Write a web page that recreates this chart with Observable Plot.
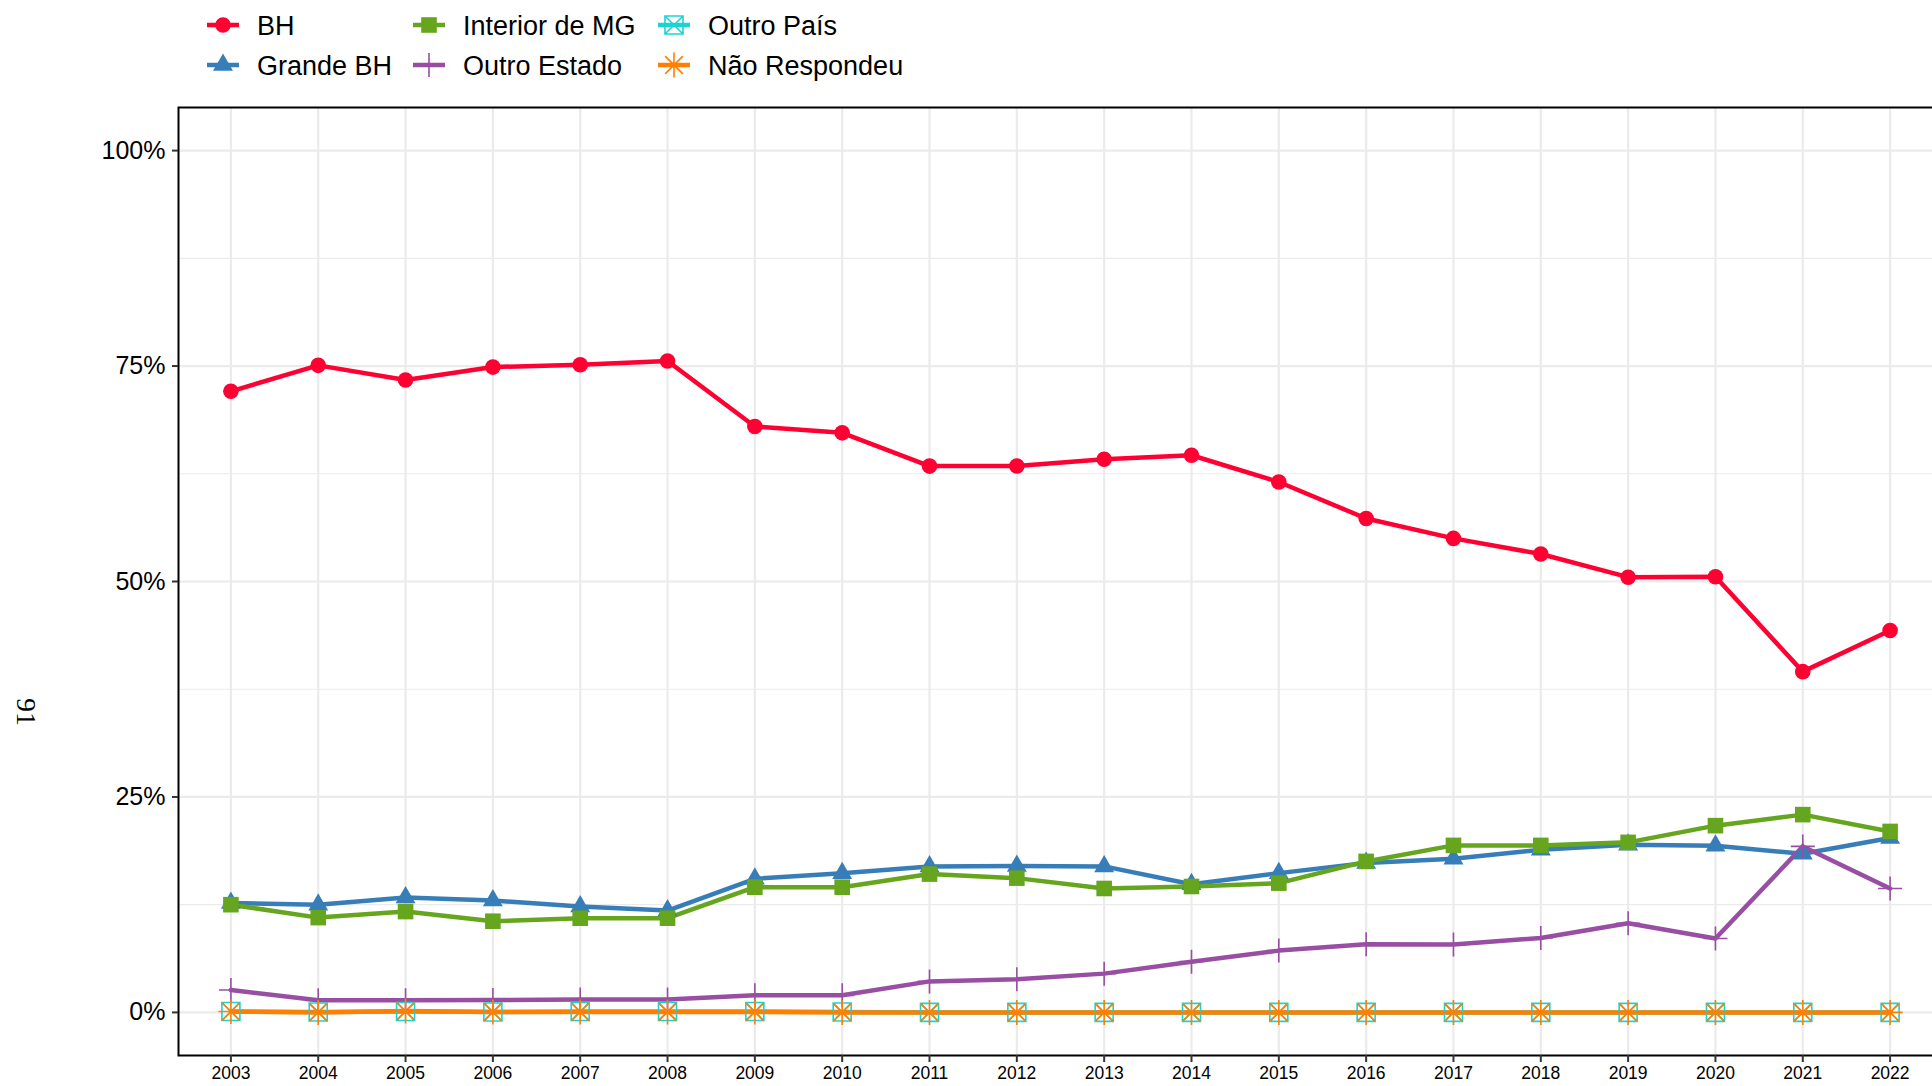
<!DOCTYPE html>
<html><head><meta charset="utf-8">
<script src="https://cdn.jsdelivr.net/npm/d3@7"></script>
<script src="https://cdn.jsdelivr.net/npm/@observablehq/plot@0.6"></script>
<style>
html,body{margin:0;padding:0;background:#fff;overflow:hidden;}
#wrap{width:1932px;height:1086px;overflow:hidden;position:relative;font-family:"Liberation Sans",Arial,sans-serif;}
#wrap svg{display:block;max-width:none !important;}
</style></head><body><div id="wrap"></div>
<script>
// ---- data ----
const years = [2003,2004,2005,2006,2007,2008,2009,2010,2011,2012,2013,2014,2015,2016,2017,2018,2019,2020,2021,2022];
const bh           = [72.07,75.08,73.38,74.88,75.15,75.58,67.98,67.25,63.39,63.41,64.19,64.65,61.54,57.31,55.00,53.19,50.50,50.55,39.54,44.31];
const grandeBH     = [12.70,12.48,13.33,12.98,12.29,11.82,15.50,16.16,16.94,17.00,16.94,14.88,16.16,17.33,17.83,18.88,19.46,19.34,18.41,20.23];
const interiorMG   = [12.50,11.00,11.70,10.58,10.93,10.93,14.53,14.53,16.05,15.58,14.38,14.61,15.00,17.52,19.38,19.38,19.73,21.67,22.95,21.00];
const outroEstado  = [2.60,1.40,1.40,1.43,1.51,1.51,1.98,1.98,3.60,3.84,4.50,5.89,7.17,7.91,7.87,8.64,10.35,8.57,19.26,14.38];
const outroPais    = [0.10,0.05,0.10,0.05,0.10,0.10,0.10,0.05,0.00,0.00,0.00,0.00,0.00,0.00,0.00,0.00,0.00,0.00,0.00,0.00];
const naoRespondeu = [0.10,0.00,0.15,0.05,0.05,0.05,0.05,0.00,0.00,0.00,0.00,0.00,0.00,0.00,0.00,0.00,0.00,0.00,0.00,0.00];

const seriesNames  = ["BH","Grande BH","Interior de MG","Outro Estado","Outro País","Não Respondeu"];
const seriesValues = [bh, grandeBH, interiorMG, outroEstado, outroPais, naoRespondeu];
const seriesColors = ["#FF0033","#377EB8","#66A61E","#984EA3","#1CD3D3","#FF7F00"];
const yTicks = [0, 0.25, 0.5, 0.75, 1];
const yMinorTicks = [0.125, 0.375, 0.625, 0.875];
const yTitle = "91";

// ---- symbols ----
const rOf = size => Math.sqrt(size / Math.PI);
const symPlus = {draw(c, s){const r=rOf(s); c.moveTo(-r,0); c.lineTo(r,0); c.moveTo(0,-r); c.lineTo(0,r);}};
const symSquareCross = {draw(c, s){const r=rOf(s); c.moveTo(-r,-r); c.lineTo(r,-r); c.lineTo(r,r); c.lineTo(-r,r); c.closePath(); c.moveTo(-r,-r); c.lineTo(r,r); c.moveTo(r,-r); c.lineTo(-r,r);}};
const symAsterisk = {draw(c, s){const r=rOf(s), d=r/Math.SQRT2; c.moveTo(-r,0); c.lineTo(r,0); c.moveTo(0,-r); c.lineTo(0,r); c.moveTo(-d,-d); c.lineTo(d,d); c.moveTo(d,-d); c.lineTo(-d,d);}};

// symbol, radius, filled?
const seriesStyle = [
  {symbol: d3.symbolCircle,   r: 7.8,  filled: true},
  {symbol: d3.symbolTriangle, r: 7.4,  filled: true},
  {symbol: d3.symbolSquare,   r: 8.8,  filled: true},
  {symbol: symPlus,           r: 12,   filled: false},
  {symbol: symSquareCross,    r: 9,    filled: false},
  {symbol: symAsterisk,       r: 12.5, filled: false}
];

const table = seriesNames.flatMap((name, k) => years.map((year, i) => ({series: name, year, value: seriesValues[k][i] / 100})));

// ---- legend ----
const legendH = 90;
const legend = d3.create("svg").attr("width", 1932).attr("height", legendH)
  .attr("font-family", '"Liberation Sans", Arial, sans-serif');
const keyCx = [223, 429, 674], textX = [257, 463, 708], rowY = [25, 65];
seriesNames.forEach((name, k) => {
  const col = Math.floor(k / 2), row = k % 2;
  const g = legend.append("g").attr("transform", `translate(${keyCx[col]},${rowY[row]})`);
  g.append("line").attr("x1", -16).attr("x2", 16).attr("stroke", seriesColors[k]).attr("stroke-width", 4.5);
  const st = seriesStyle[k];
  g.append("path").attr("d", d3.symbol(st.symbol, Math.PI * st.r * st.r)())
    .attr("fill", st.filled ? seriesColors[k] : "none")
    .attr("stroke", seriesColors[k]).attr("stroke-width", st.filled ? 0 : 1.6);
  legend.append("text").attr("x", textX[col]).attr("y", rowY[row]).attr("dy", "0.36em")
    .attr("font-size", 27).attr("fill", "#000").text(name);
});
document.getElementById("wrap").appendChild(legend.node());

// ---- main plot ----
const lineMarks = seriesNames.map((name, k) =>
  Plot.line(table.filter(d => d.series === name), {x: "year", y: "value", stroke: seriesColors[k], strokeWidth: 4.5, strokeLinejoin: "round"}));
const dotMarks = seriesNames.map((name, k) => {
  const st = seriesStyle[k];
  return Plot.dot(table.filter(d => d.series === name), {
    x: "year", y: "value", symbol: st.symbol, r: st.r,
    fill: st.filled ? seriesColors[k] : "none",
    stroke: st.filled ? "none" : seriesColors[k],
    strokeWidth: st.filled ? 0 : 1.6
  });
});

const chart = Plot.plot({
  width: 1945,
  height: 1086 - legendH,
  marginLeft: 178,
  marginRight: 3,
  marginTop: 17,
  marginBottom: 31,
  style: {fontFamily: '"Liberation Sans", Arial, sans-serif', background: "#fff", color: "#000", maxWidth: "none"},
  x: {domain: [2002.4, 2022.6]},
  y: {domain: [-0.05, 1.05]},
  marks: [
    Plot.gridY(yMinorTicks, {stroke: "#EBEBEB", strokeOpacity: 1, strokeWidth: 1.2}),
    Plot.gridY(yTicks, {stroke: "#EBEBEB", strokeOpacity: 1, strokeWidth: 2.2}),
    Plot.gridX(years, {stroke: "#EBEBEB", strokeOpacity: 1, strokeWidth: 2.2}),
    ...lineMarks,
    ...dotMarks,
    Plot.frame({stroke: "#000", strokeWidth: 2}),
    Plot.axisY(yTicks, {tickFormat: d3.format(".0%"), fontSize: 25, tickSize: 6, tickPadding: 7, strokeWidth: 2, stroke: "#333", fill: "#000", label: null}),
    Plot.axisX(years, {tickFormat: d3.format("d"), fontSize: 17.5, tickSize: 7, tickPadding: 4, strokeWidth: 2, stroke: "#333", fill: "#000", label: null})
  ]
});
chart.style.maxWidth = "none";
chart.style.width = "1945px";
chart.style.height = (1086 - legendH) + "px";
document.getElementById("wrap").appendChild(chart);

// y-axis title
d3.select(chart).append("text")
  .attr("transform", `translate(27,${712 - legendH}) rotate(90)`)
  .attr("text-anchor", "middle").attr("dy", "0.35em")
  .attr("font-family", '"Liberation Serif", "DejaVu Serif", serif').attr("font-size", 28)
  .attr("fill", "#000").text(yTitle);
</script></body></html>
